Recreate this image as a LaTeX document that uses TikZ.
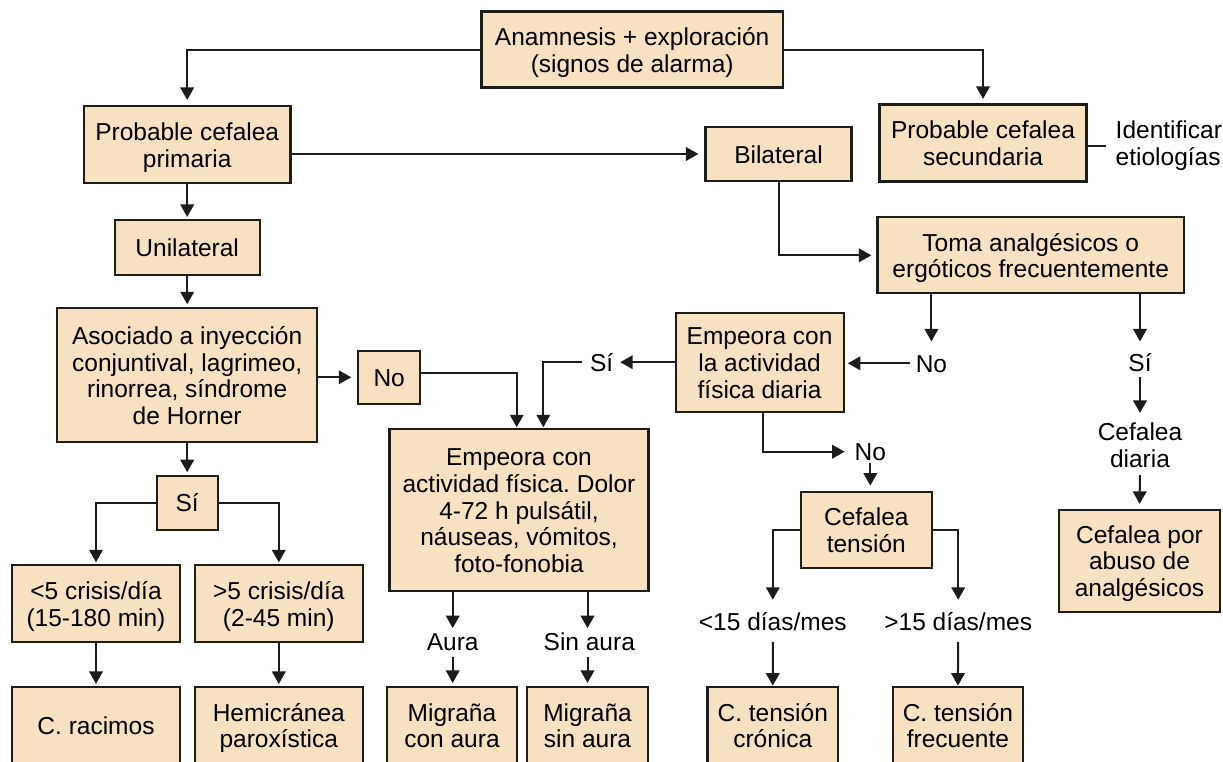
\documentclass[tikz,border=0pt]{standalone}
\usepackage{fontspec}
\setmainfont{Liberation Sans}
\usetikzlibrary{arrows.meta}
\definecolor{boxfill}{RGB}{246,225,193}
\definecolor{ink}{RGB}{28,28,28}
\frenchspacing
\newcommand{\diagfont}{\fontsize{24.5}{26.8}\selectfont}
% centred lines of box text, dropped slightly so the capitals sit mid-box
\newcommand{\tx}[1]{\raisebox{-3.8pt}[\height][\depth]{\begin{tabular}{@{}c@{}}#1\end{tabular}}}
\begin{document}
\begin{tikzpicture}[x=1pt,y=-1pt,
  box/.style={draw=ink, line width=2.1pt, fill=boxfill, inner sep=0pt, font=\diagfont},
  lbl/.style={inner sep=0pt, align=center, font=\diagfont},
  one/.style={text height=17.5pt, text depth=0pt},
  link/.style={draw=ink, line width=2pt},
  arr/.style={link, -{Triangle[length=12.5pt,width=13.5pt]}},
]
\useasboundingbox (0,0) rectangle (1223,761);
\fill[white] (0,0) rectangle (1223,761);
\clip (0,0) rectangle (1223,761);

% boxes
\node[box, minimum width=301.5pt, minimum height=76pt] (anam) at (632.2,49.5) {\tx{Anamnesis + exploración\\(signos de alarma)}};
\node[box, minimum width=206.5pt, minimum height=77pt] (prim) at (187.2,144.5) {\tx{Probable cefalea\\primaria}};
\node[box, minimum width=207pt, minimum height=77pt] (sec) at (983,143) {\tx{Probable cefalea\\secundaria}};
\node[lbl, anchor=west, align=left, inner xsep=9.5pt] (ident) at (1106,146) {Identificar\\etiologías};
\node[box, minimum width=146pt, minimum height=54pt] (bil) at (778.5,154) {\tx{Bilateral}};
\node[box, minimum width=145pt, minimum height=55pt] (uni) at (187.2,247.5) {\tx{Unilateral}};
\node[box, minimum width=306.5pt, minimum height=76pt] (toma) at (1030.7,255.3) {\tx{Toma analgésicos o\\ergóticos frecuentemente}};
\node[box, minimum width=259.7pt, minimum height=134pt] (asoc) at (187.2,375.3) {\tx{Asociado a inyección\\conjuntival, lagrimeo,\\rinorrea, síndrome\\de Horner}};
\node[box, minimum width=61.7pt, minimum height=53.3pt] (nob) at (389.2,377.3) {\tx{No}};
\node[box, minimum width=168pt, minimum height=99pt] (empd) at (759.6,362.2) {\tx{Empeora con\\la actividad\\física diaria}};
\node[box, minimum width=259pt, minimum height=161.4pt] (empm) at (519,510) {\tx{Empeora con\\actividad física. Dolor\\4-72 h pulsátil,\\náuseas, vómitos,\\foto-fonobia}};
\node[box, minimum width=61.3pt, minimum height=54.3pt] (sib) at (187.2,502.8) {\tx{Sí}};
\node[box, minimum width=168pt, minimum height=77.3pt] (lt5) at (96,603.7) {\tx{<5 crisis/día\\(15-180 min)}};
\node[box, minimum width=168.5pt, minimum height=77.3pt] (gt5) at (278.8,603.7) {\tx{>5 crisis/día\\(2-45 min)}};
\node[box, minimum width=130.6pt, minimum height=76pt] (tens) at (866.3,529.7) {\tx{Cefalea\\tensión}};
\node[box, minimum width=161pt, minimum height=101.7pt] (abuso) at (1139.5,560.8) {\tx{Cefalea por\\abuso de\\analgésicos}};

% final diagnoses along the lower edge
\node[box, minimum width=168pt, minimum height=76pt] (rac) at (96,725.3) {\tx{C. racimos}};
\node[box, minimum width=168.5pt, minimum height=76pt] (hemi) at (278.8,725.3) {\tx{Hemicránea\\paroxística}};
\node[box, minimum width=129.4pt, minimum height=76pt] (mca) at (452,725.3) {\tx{Migraña\\con aura}};
\node[box, minimum width=121.6pt, minimum height=76pt] (msa) at (587.5,725.3) {\tx{Migraña\\sin aura}};
\node[box, minimum width=130.5pt, minimum height=76pt] (tcr) at (772.75,725.3) {\tx{C. tensión\\crónica}};
\node[box, minimum width=130.6pt, minimum height=76pt] (tfr) at (957.9,725.3) {\tx{C. tensión\\frecuente}};

% free labels
\node[lbl, one] (noR) at (931.4,363.3) {No};
\node[lbl, one] (siL) at (601.7,362.3) {Sí};
\node[lbl, one] (siR) at (1140,363) {Sí};
\node[lbl] (diaria) at (1140,445.5) {Cefalea\\diaria};
\node[lbl, one] (no2) at (870.3,451.7) {No};
\node[lbl, one] (d15a) at (772.8,621.7) {<15 días/mes};
\node[lbl, one] (d15b) at (958.2,621.7) {>15 días/mes};
\node[lbl, one] (aura) at (452.7,641.7) {Aura};
\node[lbl, one] (sinaura) at (589.3,641.7) {Sin aura};

% connectors
\draw[arr, shorten >=5pt] (anam.west) -| (prim.north);
\draw[arr, shorten >=4.5pt] (anam.east) -| (sec.north);
\draw[arr, shorten >=6pt] (prim.east |- bil.west) -- (bil.west);
\draw[link] (sec.east |- ident.west) -- (ident.west);
\draw[arr, shorten >=2pt] (prim.south) -- (uni.north);
\draw[arr, shorten >=3pt] (uni.south) -- (asoc.north);
\draw[arr, shorten >=5pt] (bil.south) |- (toma.west);
\draw[arr, shorten >=6pt] (asoc.east |- nob.west) -- (nob.west);
\draw[arr, shorten >=1pt] ([yshift=4pt]nob.east) -| ([xshift=-2.3pt]empm.north);
\draw[arr, shorten >=6.7pt] (empd.west) -- (empd.west -| siL.east);
\draw[arr, shorten <=8.4pt, shorten >=1pt] (siL.west) -| ([xshift=24.3pt]empm.north);
\draw[arr, shorten >=12.9pt] (toma.south -| noR.north) -- (noR.north);
\draw[arr, shorten <=5.2pt, shorten >=3.2pt] (noR.west) -- (noR.west -| empd.east);
\draw[arr, shorten >=12.6pt] (toma.south -| siR.north) -- (siR.north);
\draw[arr, shorten <=5.2pt, shorten >=10pt] (siR.south) -- (diaria.north);
\draw[arr, shorten <=7pt, shorten >=5pt] (diaria.south) -- (abuso.north);
\draw[arr, shorten >=9.8pt] ([xshift=3.6pt]empd.south) |- (no2.west);
\draw[arr, shorten <=2.5pt, shorten >=5pt] (no2.south) -- (no2.south |- tens.north);
\draw[arr, shorten >=13pt] (tens.west) -| (d15a.north);
\draw[arr, shorten >=13pt] (tens.east) -| (d15b.north);
\draw[arr, shorten <=11.2pt, shorten >=0.6pt] (d15a.south) -- (tcr.north);
\draw[arr, shorten <=11.2pt, shorten >=0.6pt] (d15b.south) -- (tfr.north);
\draw[arr, shorten >=4.6pt] (empm.south -| aura.north) -- (aura.north);
\draw[arr, shorten <=6.2pt, shorten >=3.3pt] (aura.south) -- (aura.south |- mca.north);
\draw[arr, shorten >=4.6pt] (empm.south -| msa.north) -- (msa.north |- sinaura.north);
\draw[arr, shorten <=6.2pt, shorten >=3.3pt] (msa.north |- sinaura.south) -- (msa.north);
\draw[arr, shorten >=2.4pt] (asoc.south) -- (sib.north);
\draw[arr, shorten >=1.7pt] (sib.west) -| (lt5.north);
\draw[arr, shorten >=1.7pt] (sib.east) -| (gt5.north);
\draw[arr, shorten >=2.3pt] (lt5.south) -- (rac.north);
\draw[arr, shorten >=2.3pt] (gt5.south) -- (hemi.north);
\end{tikzpicture}
\end{document}
